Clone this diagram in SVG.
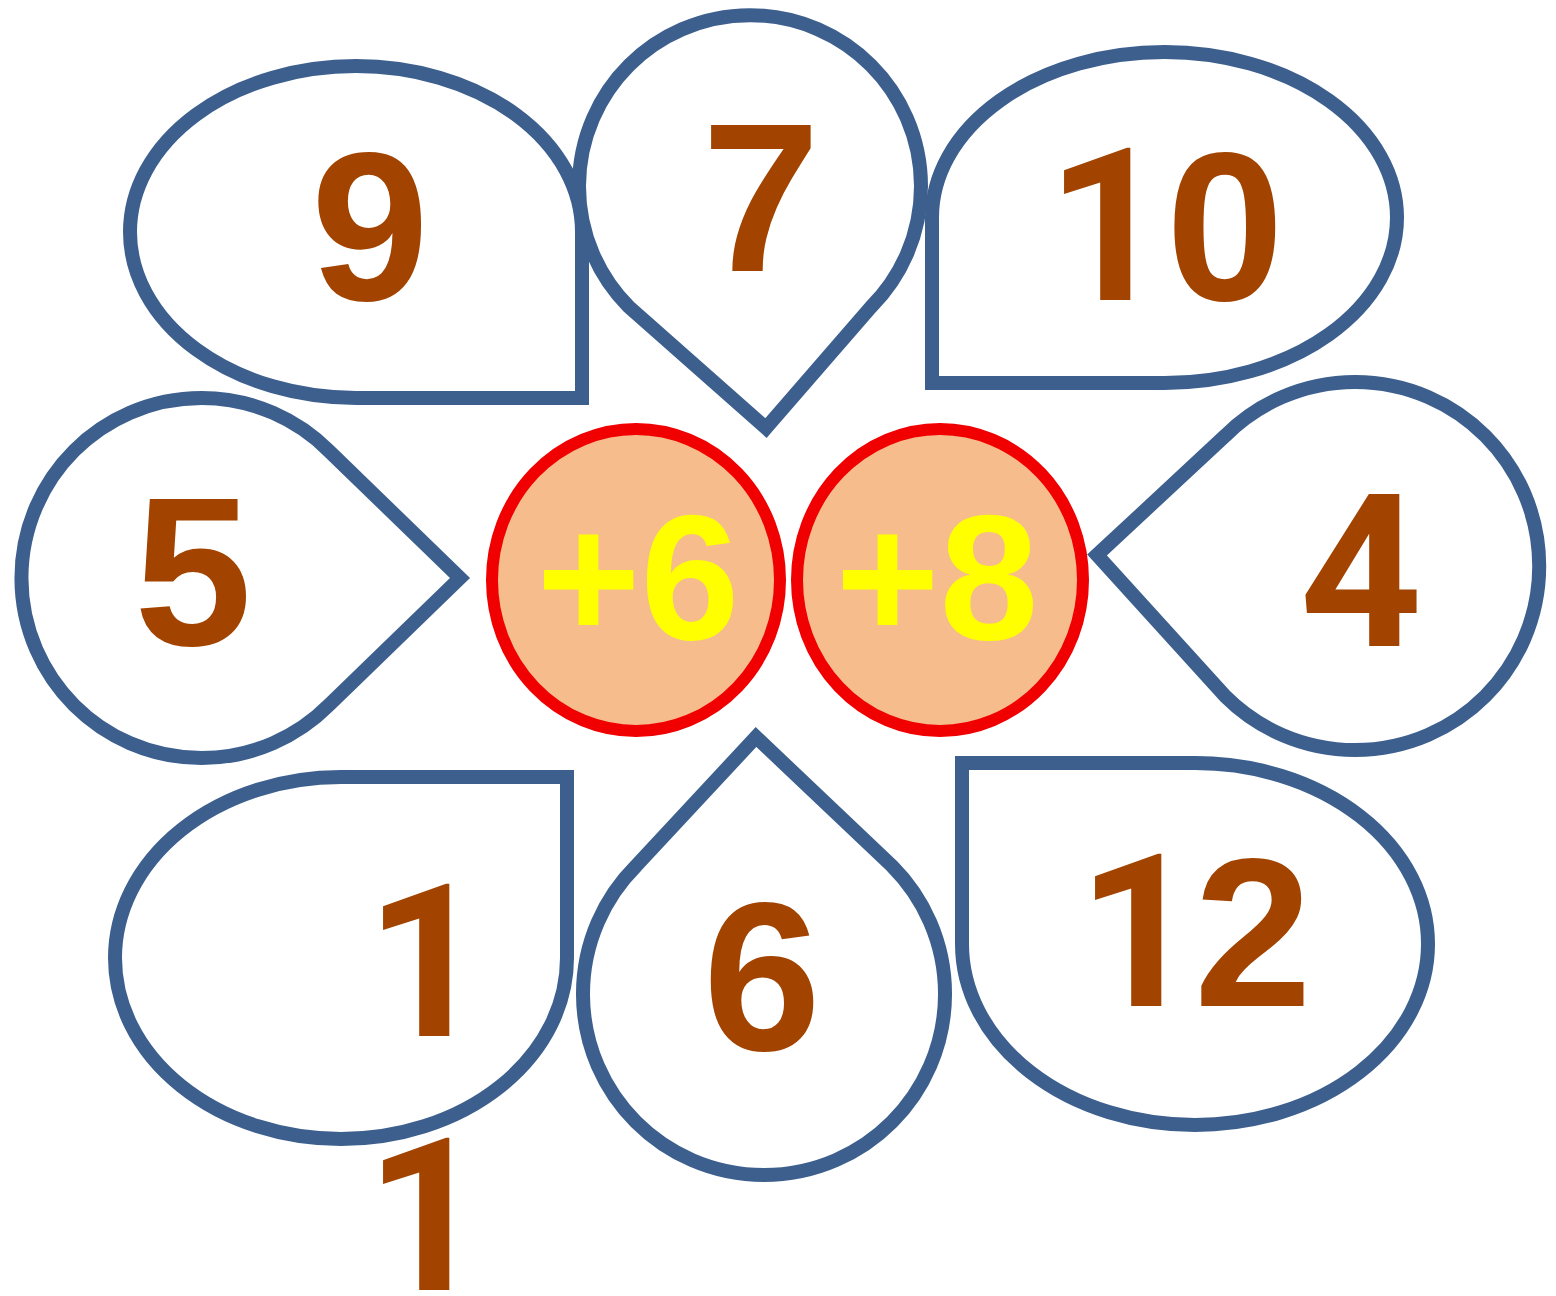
<svg xmlns="http://www.w3.org/2000/svg" width="1556" height="1296" viewBox="0 0 1556 1296">
<style>
.petal{fill:none;stroke:#3D5F8E;stroke-width:14;stroke-linejoin:miter;stroke-miterlimit:10}
.num{font-family:"Liberation Sans",Arial,sans-serif;font-weight:bold;font-size:212px;fill:#A24400;text-anchor:middle}
.r{font-family:Roboto,"Liberation Sans",Arial,sans-serif;font-size:214px}
.op{fill:#F7BC8C;stroke:#F00000;stroke-width:12}
.optext{font-family:"Liberation Sans",Arial,sans-serif;font-weight:bold;font-size:178px;fill:#FFFF00;text-anchor:middle}
</style>
<rect width="1556" height="1296" fill="#FFFFFF"/>
<g id="petal-9">
<path class="petal" d="M582,232 L582,398 L356,398 A226,166 0 0 1 130,232 A226,166 0 0 1 356,66 A226,166 0 0 1 582,232 Z"/>
<text class="num" x="370" y="300">9</text>
</g>
<g id="petal-7">
<path class="petal" d="M766,428 L871,307 A171,171 0 1 0 629,307 Z"/>
<text class="num" x="761" y="271">7</text>
</g>
<g id="petal-10">
<path class="petal" d="M932,217.5 A232.5,165.5 0 0 1 1164.5,52 A232.5,165.5 0 0 1 1397,217.5 A232.5,165.5 0 0 1 1164.5,383 L932,383 Z"/>
<text class="num" y="300"><tspan class="r" x="1108">1</tspan><tspan x="1225">0</tspan></text>
</g>
<g id="petal-5">
<path class="petal" d="M460,578 L329,705 A180,180 0 1 1 329,451 Z"/>
<text class="num" x="193" y="645">5</text>
</g>
<g id="petal-4">
<path class="petal" d="M1097,555 L1225,436 A184,184 0 1 1 1225,696 Z"/>
<text class="num r" x="1361" y="646">4</text>
</g>
<g id="petal-1">
<path class="petal" d="M567,958 L567,777 L341,777 A226,181 0 0 0 115,958 A226,181 0 0 0 341,1139 A226,181 0 0 0 567,958 Z"/>
<text class="num r" x="427" y="1036">1</text>
<text class="num r" x="427" y="1290">1</text>
</g>
<g id="petal-6">
<path class="petal" d="M756,737 L636,866 A181,181 0 1 0 892,866 Z"/>
<text class="num" x="762" y="1050">6</text>
</g>
<g id="petal-12">
<path class="petal" d="M962,944 L962,763 L1195,763 A233,181 0 0 1 1428,944 A233,181 0 0 1 1195,1125 A233,181 0 0 1 962,944 Z"/>
<text class="num" y="1006"><tspan class="r" x="1139">1</tspan><tspan x="1253">2</tspan></text>
</g>
<g id="op-plus6">
<ellipse class="op" cx="636" cy="580" rx="144" ry="151"/>
<text class="optext" x="638" y="639">+6</text>
</g>
<g id="op-plus8">
<ellipse class="op" cx="940" cy="580" rx="143" ry="151"/>
<text class="optext" x="937" y="639">+8</text>
</g>
<g id="connectors"></g>
</svg>
